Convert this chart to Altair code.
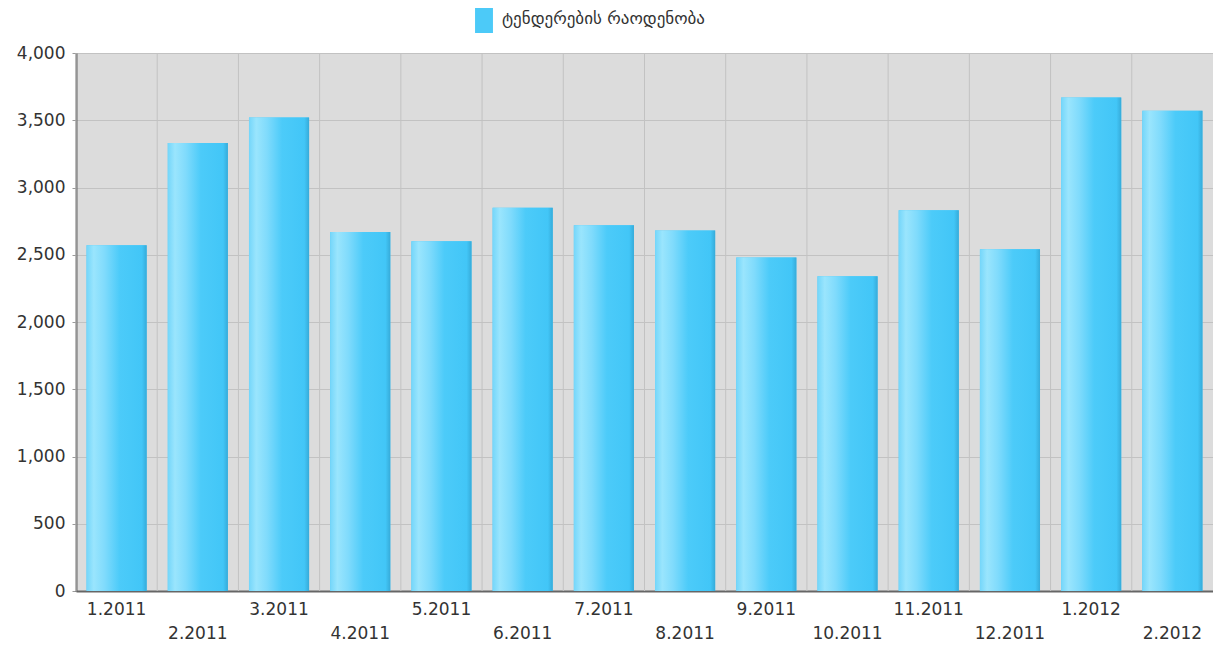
import altair as alt
import pandas as pd

months = ["1.2011", "2.2011", "3.2011", "4.2011", "5.2011", "6.2011", "7.2011",
          "8.2011", "9.2011", "10.2011", "11.2011", "12.2011", "1.2012", "2.2012"]
tenders = [2570, 3330, 3520, 2670, 2600, 2850, 2720, 2680, 2480, 2340, 2830, 2540, 3670, 3570]
series_name = "ტენდერების რაოდენობა"
y_ticks = [0, 500, 1000, 1500, 2000, 2500, 3000, 3500, 4000]

df = pd.DataFrame({"month": months, "count": tenders, "series": series_name})

FONT = "DejaVu Sans"
TXT = "#333333"

label_expr = "toNumber(split(datum.label, '.')[0]) % 2 == 0 ? ['', datum.label] : datum.label"

x_main = alt.X(
    "month:N", sort=months, title=None,
    scale=alt.Scale(paddingInner=0.26, paddingOuter=0.13),
    axis=alt.Axis(labelAngle=0, labelFont=FONT, labelFontSize=17, labelColor=TXT,
                  tickSize=0, labelPadding=10, domainColor="#666666", domainWidth=2,
                  grid=False, labelLineHeight=24, labelExpr=label_expr,
                  labelBaseline="top", labelOverlap=False),
)
x_plain = alt.X("month:N", sort=months, title=None,
                scale=alt.Scale(paddingInner=0.26, paddingOuter=0.13), axis=None)

y_enc = alt.Y(
    "count:Q", title=None,
    scale=alt.Scale(domain=[0, 4000], nice=False),
    axis=alt.Axis(values=y_ticks, format=",d", labelFont=FONT, labelFontSize=17,
                  labelColor=TXT, gridColor="#c2c2c2", gridWidth=1, tickColor="#9a9a9a",
                  tickSize=4, labelPadding=7, domainColor="#666666", domainWidth=2),
)

grid_v = alt.Chart(df).mark_rule(color="#c2c2c2", strokeWidth=1).encode(
    x=alt.X("month:N", sort=months, bandPosition=0,
            scale=alt.Scale(paddingInner=0, paddingOuter=0), axis=None)
)

bars_base = alt.Chart(df).mark_bar().encode(
    x=x_main, y=y_enc,
    color=alt.Color("series:N", scale=alt.Scale(range=["#4ccaf8"]),
                    legend=alt.Legend(title=None, orient="none", legendX=394, legendY=-48,
                                      symbolType="M-0.64,-1H0.64V1H-0.64Z",
                                      symbolSize=784, symbolStrokeWidth=0,
                                      labelFont=FONT, labelFontSize=17, labelColor=TXT,
                                      labelLimit=0, padding=0)),
)

gradient = alt.LinearGradient(
    gradient="linear", x1=0, x2=1, y1=0, y2=0,
    stops=[
        alt.GradientStop(offset=0.0, color="#74d6fa"),
        alt.GradientStop(offset=0.12, color="#9ae5fd"),
        alt.GradientStop(offset=0.3, color="#80dbfc"),
        alt.GradientStop(offset=0.55, color="#4ccbf9"),
        alt.GradientStop(offset=0.92, color="#42c6f7"),
        alt.GradientStop(offset=1.0, color="#36abd9"),
    ],
)
bars_grad = alt.Chart(df).mark_bar(color=gradient).encode(x=x_plain, y=y_enc)

chart = (
    alt.layer(grid_v, bars_base, bars_grad)
    .resolve_scale(x="independent")
    .properties(
        width=1137, height=538,
        autosize=alt.AutoSizeParams(type="none"),
        padding={"left": 68, "top": 45, "right": 0, "bottom": 56},
        background="white",
    )
    .configure_view(fill="#dcdcdc", stroke="#c2c2c2")
)

chart.save("out.html", embed_options={"renderer": "svg", "actions": False})
